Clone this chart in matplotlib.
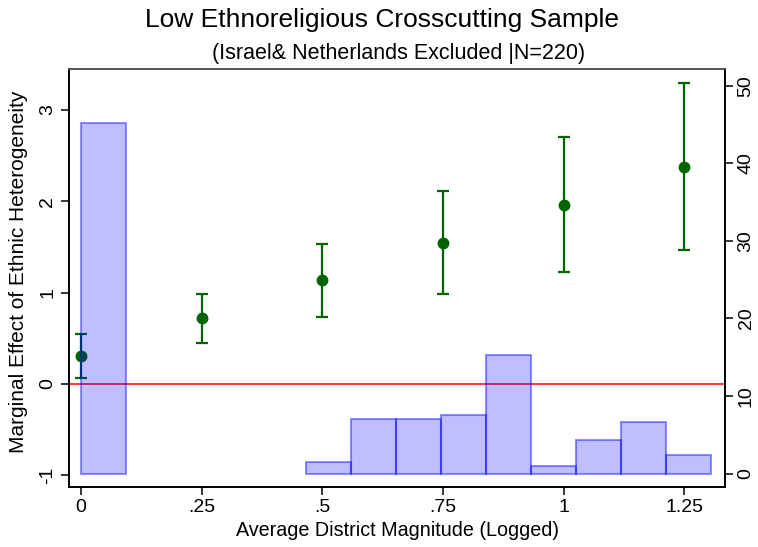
import numpy as np
import matplotlib
matplotlib.use("Agg")
import matplotlib.pyplot as plt

plt.rcParams['font.family'] = ['Liberation Sans', 'DejaVu Sans']

# marginal effect estimates with 95% bounds
magnitude = [0, 0.25, 0.5, 0.75, 1.0, 1.25]
effect = [0.307, 0.72, 1.136, 1.548, 1.964, 2.38]
upper = [0.548, 0.986, 1.533, 2.11, 2.70, 3.297]
lower = [0.066, 0.449, 0.734, 0.989, 1.23, 1.464]

# histogram of district magnitude (percent)
bin_left = [0.0, 0.0932, 0.1864, 0.2796, 0.3728, 0.466, 0.5592, 0.6524,
            0.7456, 0.8388, 0.932, 1.0252, 1.1184, 1.2116]
bin_width = 0.0932
hist_pct = [45.2, 0, 0, 0, 0, 1.5, 7.0, 7.0, 7.5, 15.3, 1.0, 4.3, 6.6, 2.4]

xticks = [0, 0.25, 0.5, 0.75, 1.0, 1.25]
xticklabels = ['0', '.25', '.5', '.75', '1', '1.25']

fig = plt.figure(figsize=(7.58, 5.47), dpi=100)
ax = fig.add_axes([0.091, 0.1097, 0.8655, 0.7643])

ax.axhline(0, color='red', lw=1.1, zorder=1)
yerr = [np.array(effect) - np.array(lower), np.array(upper) - np.array(effect)]
ax.errorbar(magnitude, effect, yerr=yerr, fmt='o', color='#006400',
            ms=7.5, elinewidth=1.6, capsize=4.5, capthick=1.6, zorder=3)

ax.set_xlim(-0.0249, 1.334)
ax.set_ylim(-1.128, 3.45)
ax.set_xticks(xticks)
ax.set_xticklabels(xticklabels)
ax.set_yticks([-1, 0, 1, 2, 3])
ax.set_yticklabels(['-1', '0', '1', '2', '3'], rotation=90, va='center')
ax.tick_params(labelsize=14, length=6, width=1.1, direction='out', pad=3)
ax.set_xlabel('Average District Magnitude (Logged)', fontsize=14.2, labelpad=3)
ax.set_ylabel('Marginal Effect of Ethnic Heterogeneity', fontsize=15)
ax.yaxis.set_label_coords(-0.062, 0.515)

# histogram on the right-hand axis, drawn over the estimates
ax2 = ax.twinx()
ax2.bar([b for b, h in zip(bin_left, hist_pct) if h > 0],
        [h for h in hist_pct if h > 0], width=bin_width, align='edge',
        facecolor=(0, 0, 1, 0.25), edgecolor=(0, 0, 1, 0.42), lw=1.5)
ax2.set_ylim(-1.74, 52.2)
ax2.set_yticks([0, 10, 20, 30, 40, 50])
ax2.set_yticklabels(['0', '10', '20', '30', '40', '50'], rotation=90, va='center')
ax2.tick_params(labelsize=14, length=6, width=1.1, direction='out', pad=3)

for a in (ax, ax2):
    for s in a.spines.values():
        s.set_linewidth(1.2)
    a.spines['top'].set_color('#555555')

fig.text(0.504, 0.963, 'Low Ethnoreligious Crosscutting Sample', ha='center',
         va='center', fontsize=19)
fig.text(0.526, 0.903, '(Israel& Netherlands Excluded |N=220)', ha='center',
         va='center', fontsize=15.5)

fig.savefig('out.png', dpi=100)
